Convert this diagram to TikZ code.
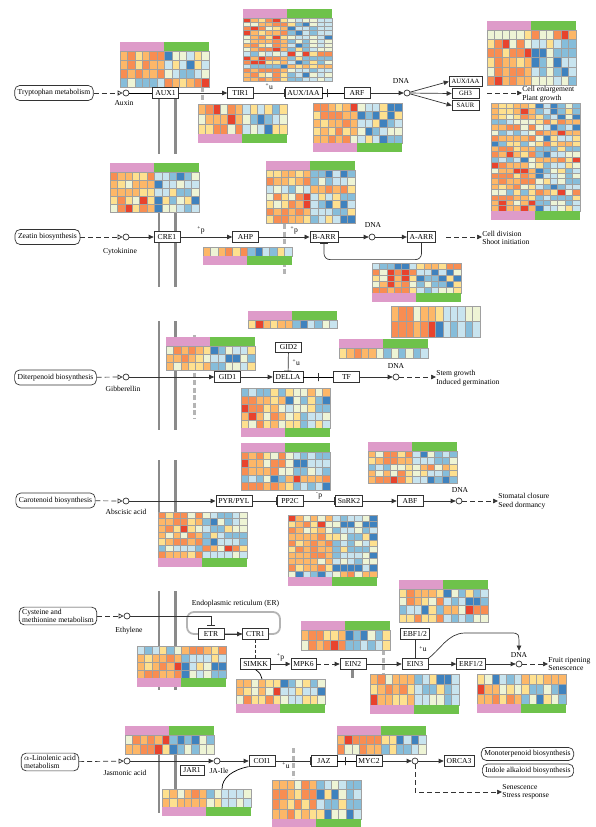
\documentclass[tikz,border=0pt]{standalone}
\usepackage{fontspec}
\setmainfont{Liberation Serif}
\usetikzlibrary{arrows.meta, positioning, calc}
\definecolor{hm0}{HTML}{E8432D}
\definecolor{hm1}{HTML}{F88D52}
\definecolor{hm2}{HTML}{FDB768}
\definecolor{hm3}{HTML}{FEE08F}
\definecolor{hm4}{HTML}{EEF4D5}
\definecolor{hm5}{HTML}{C8E4EF}
\definecolor{hm6}{HTML}{86BDDA}
\definecolor{hm7}{HTML}{3F82BE}
\definecolor{cpink}{HTML}{DE9BC9}
\definecolor{cgreen}{HTML}{6EC24B}
\definecolor{cellc}{HTML}{A0A0A0}
\definecolor{cline}{HTML}{333333}
\definecolor{cmem}{HTML}{8A8A8A}
\definecolor{cdash}{HTML}{B4B4B4}
\tikzset{
  every picture/.style={font=\fontsize{7.6}{8.4}\selectfont, line width=0.7pt},
  gene/.style={draw=cline, fill=white, minimum width=26pt, minimum height=10.5pt, inner xsep=2.5pt, inner ysep=1pt},
  gene small/.style={gene, font=\fontsize{6.6}{7}\selectfont, minimum width=27pt, minimum height=9.5pt},
  pathbox/.style={draw=cline, fill=white, rounded corners=5pt, inner xsep=3pt, inner ysep=2pt, minimum height=15pt, align=left},
  cpd/.style={circle, draw=cline, fill=white, minimum size=6pt, inner sep=0pt},
  lbl/.style={inner sep=0pt, align=left},
  act/.style={-{Triangle[length=5pt,width=4.5pt]}, draw=cline},
  dashact/.style={act, dash pattern=on 5pt off 3pt},
  inh/.style={-{Bar[width=8pt]}, draw=cline},
  feed/.style={-{Triangle[open,length=5pt,width=5pt]}, draw=cline, dash pattern=on 5pt off 3pt},
  tick/.style={draw=cline, minimum width=0pt, minimum height=8pt, inner sep=0pt},
  memb/.style={draw=cmem, line width=2.2pt},
  gdash/.style={draw=cdash, line width=3pt, dash pattern=on 5pt off 2.5pt},
  erbox/.style={draw=cdash, line width=1.8pt, rounded corners=7pt, minimum width=93pt, minimum height=22pt},
}
\begin{document}
\begin{tikzpicture}[x=1pt, y=-1pt]
  % \hmap{x}{y}{rows}{row height}{bar t/b/n}{seed}
  \newcommand{\hmap}[6]{
    \begin{scope}[shift={(#1,#2)}]
      \pgfmathsetseed{#6}
      \if t#5 \def\yo{9}\else \def\yo{0}\fi
      \foreach \r in {1,...,#3} {
        \pgfmathrandominteger{\flip}{0}{4}
        \foreach \c in {1,...,12} {
          \pgfmathrandominteger{\nz}{0}{9}
          \pgfmathrandominteger{\ex}{0}{13}
          \pgfmathtruncatemacro{\warm}{(\c<7)==(\flip>0)}
          \pgfmathtruncatemacro{\k}{\warm==1 ? {1,1,2,2,2,3,3,1,2,4}[\nz] : {5,5,6,6,4,5,6,7,4,3}[\nz]}
          \ifnum\ex=0 \pgfmathtruncatemacro{\k}{7*(1-\warm)}\fi
          \filldraw[fill=hm\k, draw=cellc, line width=0.5pt] ({(\c-1)*7.4},{\yo+(\r-1)*#4}) rectangle ++(7.4,#4);
        }
      }
      \if t#5 \fill[cpink] (0,0) rectangle (44.4,9); \fill[cgreen] (44.4,0) rectangle (88.8,9); \fi
      \if b#5 \fill[cpink] (0,{#3*#4}) rectangle ++(44.4,9); \fill[cgreen] (44.4,{#3*#4}) rectangle ++(44.4,9); \fi
    \end{scope}}
  \useasboundingbox (0,0) rectangle (595,827);

  % membranes
  \foreach \ya/\yb in {88/154, 213/287, 321/430, 460/512, 591/690, 726/813} {
    \draw[memb] (159,\ya) -- (159,\yb);
    \draw[memb] (175.5,\ya) -- (175.5,\yb);
  }
  \draw[gdash] (202,87) -- (202,102);
  \draw[gdash] (284,224) -- (284,274);
  \draw[gdash] (194,335) -- (194,418);
  \draw[gdash] (383,650) -- (383,676);
  \draw[gdash] (293,748) -- (293,778);
  \draw[draw=cmem, line width=3pt] (352,668) -- (352,678);
  \node[erbox] (er) at (233.5,623) {};
  \node[lbl] (erl) at (235.5,604) {Endoplasmic reticulum (ER)};

  % heatmaps
  \hmap{120}{42}{4}{9}{t}{11}
  \hmap{198}{104}{3}{10}{b}{12}
  \hmap{243}{9}{15}{4.2}{t}{13}
  \hmap{313}{103}{5}{8}{b}{14}
  \hmap{487}{21}{6}{9.2}{t}{15}
  \hmap{491}{103}{20}{5.4}{b}{16}
  \hmap{110}{163}{5}{8}{t}{17}
  \hmap{203}{247}{1}{9}{b}{18}
  \hmap{266}{161}{7}{7.6}{t}{19}
  \hmap{372}{263}{5}{6}{b}{20}
  \hmap{391}{306}{2}{15.5}{n}{21}
  \hmap{166}{337}{3}{8}{t}{22}
  \hmap{248}{311}{1}{8}{t}{23}
  \hmap{339}{339}{1}{10}{t}{24}
  \hmap{241}{388}{5}{8}{b}{25}
  \hmap{241}{443}{5}{7.6}{t}{26}
  \hmap{158}{512}{7}{6.6}{b}{27}
  \hmap{288}{515}{10}{6.2}{b}{28}
  \hmap{368}{442}{5}{6.4}{t}{29}
  \hmap{137}{646}{4}{8}{b}{30}
  \hmap{236}{679}{3}{8.3}{b}{31}
  \hmap{301}{621}{2}{10}{t}{32}
  \hmap{399}{580}{4}{8.3}{t}{33}
  \hmap{370}{674}{3}{10.3}{b}{34}
  \hmap{477}{674}{3}{10}{b}{35}
  \hmap{125}{726}{2}{9.5}{t}{36}
  \hmap{162}{789}{2}{9}{b}{37}
  \hmap{337}{726}{2}{9.5}{t}{38}
  \hmap{272}{780}{4}{9.7}{b}{39}

  % auxin
  \node[pathbox] (trp) at (54,93) {Tryptophan metabolism};
  \node[cpd] (auxin) at (126,93) {};
  \node[lbl] (auxinl) at (124,103) {Auxin};
  \node[gene] (aux1) at (165.5,93) {AUX1};
  \node[gene] (tir1) at (240.5,93) {TIR1};
  \node[gene] (auxiaa) at (303.5,93) {AUX/IAA};
  \node[gene] (arf) at (357,93) {ARF};
  \node[cpd] (dna1) at (407,93) {};
  \node[lbl] (dna1l) at (401,81) {DNA};
  \node[gene small] (iaa2) at (465.5,81.5) {AUX/IAA};
  \node[gene small] (gh3) at (465.5,93.5) {GH3};
  \node[gene small] (saur) at (465.5,105.5) {SAUR};
  \node[lbl, anchor=west] (resp1) at (522,94) {Cell enlargement\\Plant growth};
  \coordinate (o1) at (487,93);
  \draw[feed] (trp) -- (auxin);
  \draw (auxin) -- (aux1);
  \draw[act] (aux1) -- (tir1);
  \draw[inh] (tir1) -- node[lbl, above=3pt] {\textsuperscript{+}u} (auxiaa);
  \draw (auxiaa) -- node[tick, pos=0.25] {} (arf);
  \draw[act] (arf) -- (dna1);
  \draw[act] (dna1) -- (iaa2.west);
  \draw[act] (dna1) -- (gh3.west);
  \draw[act] (dna1) -- (saur.west);
  \draw[dashact] (o1) -- (resp1.west |- o1);

  % cytokinine
  \node[pathbox] (zeatin) at (47.5,237) {Zeatin biosynthesis};
  \node[cpd] (cyto) at (126,237) {};
  \node[lbl] (cytol) at (120,252) {Cytokinine};
  \node[gene] (cre1) at (167,237) {CRE1};
  \node[gene] (ahp) at (245.5,237) {AHP};
  \node[gene] (barr) at (324,237) {B-ARR};
  \node[cpd] (dna2) at (372,237) {};
  \node[lbl] (dna2l) at (373,225) {DNA};
  \node[gene] (aarr) at (421.5,237) {A-ARR};
  \node[lbl, anchor=west] (resp2) at (482,238) {Cell division\\Shoot initiation};
  \coordinate (o2) at (446,237);
  \draw[feed] (zeatin) -- (cyto);
  \draw[act] (cyto) -- (cre1);
  \draw[act] (cre1) -- node[lbl, above=3pt, pos=0.4] {\textsuperscript{+}p} (ahp);
  \draw[act] (ahp) -- node[lbl, above=3pt, pos=0.7] {\textsuperscript{+}p} (barr);
  \draw[act] (barr) -- (dna2);
  \draw[act] (dna2) -- (aarr);
  \draw[inh, rounded corners=6pt] (aarr.south) -- ++(0,17) -| (barr.south);
  \draw[dashact] (o2) -- (resp2.west |- o2);

  % gibberellin
  \node[pathbox] (diterp) at (55.5,377.5) {Diterpenoid biosynthesis};
  \node[cpd] (gib) at (126,377) {};
  \node[lbl] (gibl) at (123,389) {Gibberellin};
  \node[gene] (gid1) at (227.5,377) {GID1};
  \node[gene] (della) at (288,377) {DELLA};
  \node[gene] (gid2) at (288.5,347.5) {GID2};
  \node[gene] (tf) at (346.5,377) {TF};
  \node[cpd] (dna3) at (396,377) {};
  \node[lbl] (dna3l) at (396,366) {DNA};
  \node[lbl, anchor=west] (resp3) at (436,378) {Stem growth\\Induced germination};
  \draw[feed] (diterp) -- (gib);
  \draw[act] (gib) -- (gid1);
  \draw[act] (gid1) -- (della);
  \draw[inh] (gid2) -- node[lbl, right=4pt] {\textsuperscript{+}u} (della);
  \draw (della) -- node[tick] {} (tf);
  \draw[act] (tf) -- (dna3);
  \draw[dashact] (dna3) -- (resp3.west |- dna3);

  % abscisic acid
  \node[pathbox] (carot) at (55.5,500.5) {Carotenoid biosynthesis};
  \node[cpd] (aba) at (126,501) {};
  \node[lbl] (abal) at (126,512) {Abscisic acid};
  \node[gene] (pyr) at (234,501) {PYR/PYL};
  \node[gene] (pp2c) at (290,501) {PP2C};
  \node[gene] (snrk2) at (349,501) {SnRK2};
  \node[gene] (abf) at (410,501) {ABF};
  \node[cpd] (dna4) at (459,501) {};
  \node[lbl] (dna4l) at (460,490) {DNA};
  \node[lbl, anchor=west] (resp4) at (498,501) {Stomatal closure\\Seed dormancy};
  \draw[feed] (carot) -- (aba);
  \draw[act] (aba) -- (pyr);
  \draw[inh] (pyr) -- (pp2c);
  \draw[inh] (pp2c) -- node[lbl, above=2pt] {\textsuperscript{-}p} (snrk2);
  \draw[act] (snrk2) -- (abf);
  \draw[act] (abf) -- (dna4);
  \draw[dashact] (dna4) -- (resp4.west |- dna4);

  % ethylene
  \node[pathbox] (cys) at (58,616) {Cysteine and\\methionine metabolism};
  \node[cpd] (eth) at (127,616) {};
  \node[lbl] (ethl) at (129,631) {Ethylene};
  \node[gene] (etr) at (211,634) {ETR};
  \node[gene] (ctr1) at (255.5,634) {CTR1};
  \node[gene] (simkk) at (255.5,664) {SIMKK};
  \node[gene, minimum width=23pt] (mpk6) at (303.5,664) {MPK6};
  \node[gene] (ein2) at (353,664) {EIN2};
  \node[gene] (ein3) at (415,664) {EIN3};
  \node[gene] (ebf) at (415,634) {EBF1/2};
  \node[gene] (erf) at (471,664) {ERF1/2};
  \node[cpd] (dna5) at (519,664) {};
  \node[lbl] (dna5l) at (519,654.5) {DNA};
  \node[lbl, anchor=west] (resp5) at (548,664) {Fruit ripening\\Senescence};
  \coordinate (h22top) at (262,679);
  \draw[feed] (cys) -- (eth);
  \draw[inh, shorten >=3pt] (eth) -| (etr.north);
  \draw[act] (etr) -- (ctr1);
  \draw[inh, dash pattern=on 3pt off 2pt, line width=0.5pt] (ctr1) -- (simkk);
  \draw[act] (simkk) -- node[lbl, above=3pt] {\textsuperscript{+}p} (mpk6);
  \draw[dashact] (mpk6) -- (ein2);
  \draw[act] (ein2) -- (ein3);
  \draw[inh] (ebf) -- node[lbl, right=4pt] {\textsuperscript{+}u} (ein3);
  \draw[act] (ein3) -- (erf);
  \draw[act] (erf) -- (dna5);
  \draw[act] (ein3.north east) .. controls (440,650) and (448,633) .. (465,633) -- (510,633) .. controls (519,633) .. ([yshift=1pt]dna5l.north);
  \draw[dashact] (dna5) -- (resp5.west |- dna5);
  \draw (simkk.south) .. controls (260,673) .. (h22top);

  % jasmonic acid
  \node[pathbox] (lin) at (50,762) {$\alpha$-Linolenic acid\\metabolism};
  \node[cpd] (ja) at (127,761) {};
  \node[lbl] (jal) at (125,773) {Jasmonic acid};
  \node[cpd] (jaile) at (217,761) {};
  \node[lbl] (jailel) at (219,770.5) {JA-Ile};
  \node[gene, minimum width=24pt] (jar1) at (192,770.5) {JAR1};
  \node[gene] (coi1) at (262,761) {COI1};
  \node[gene] (jaz) at (324,761) {JAZ};
  \node[gene] (myc2) at (369,761) {MYC2};
  \node[cpd] (dna6) at (415,761) {};
  \node[gene] (orca3) at (459,761) {ORCA3};
  \node[pathbox, minimum height=13pt, inner ysep=1pt] (mono) at (527.5,754) {Monoterpenoid biosynthesis};
  \node[pathbox, minimum height=13pt, inner ysep=1pt] (indole) at (528,770.5) {Indole alkaloid biosynthesis};
  \node[lbl, anchor=west] (resp6) at (502,792) {Senescence\\Stress response};
  \coordinate (h29top) at (222,789);
  \draw[feed] (lin) -- (ja);
  \draw[act] (ja) -- (jaile);
  \draw[act] (jaile) -- (coi1);
  \draw[inh] (coi1) -- node[lbl, below=1pt, pos=0.3] {\textsuperscript{+}u} (jaz);
  \draw (jaz) -- node[tick, pos=0.45] {} (myc2);
  \draw[act] (myc2) -- (dna6);
  \draw[act] (dna6) -- (orca3);
  \draw[dashact] (dna6) |- (resp6.west);
  \draw (coi1.south west) .. controls (232,770) and (222,778) .. (h29top);
\end{tikzpicture}
\end{document}
